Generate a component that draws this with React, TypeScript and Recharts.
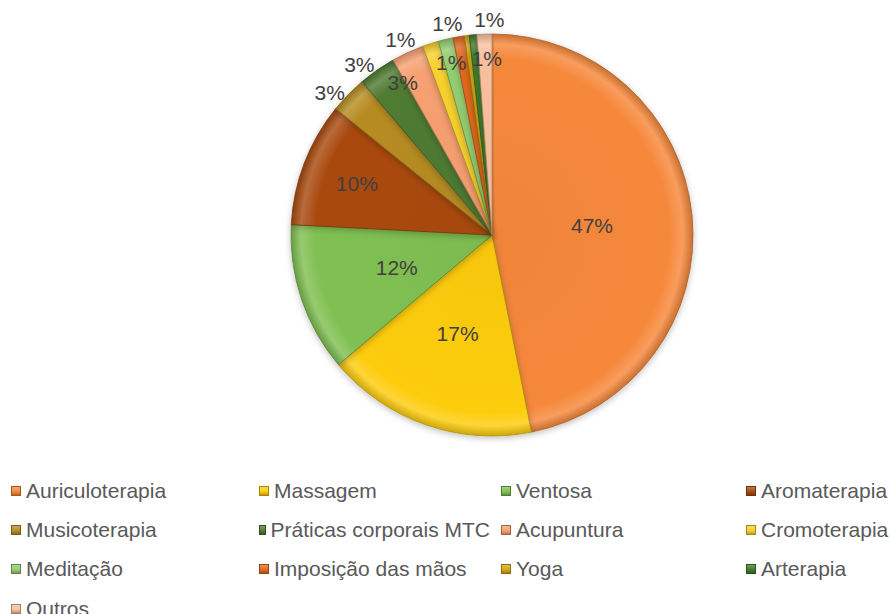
import React from 'react'
import { PieChart, Pie, Cell, Legend } from 'recharts'

const categories = [
  'Auriculoterapia',
  'Massagem',
  'Ventosa',
  'Aromaterapia',
  'Musicoterapia',
  'Práticas corporais MTC',
  'Acupuntura',
  'Cromoterapia',
  'Meditação',
  'Imposição das mãos',
  'Yoga',
  'Arterapia',
  'Outros',
]

// percent of answers
const shares = [46.9, 17, 12, 10, 3, 3, 2.6, 1.3, 1.2, 0.9, 0.4, 0.6, 1.2]

const colors = [
  '#F6883B',
  '#FDCC0C',
  '#80C052',
  '#AA4A10',
  '#B68C22',
  '#4F7B31',
  '#F7A071',
  '#F7D12F',
  '#94CD70',
  '#E2681F',
  '#D6A714',
  '#407B2C',
  '#F9C09E',
]

// how each data label sits: inside ratio of the radius, or outside; small angle nudges (deg, clockwise)
const labelPlacement: { mode: 'in' | 'out' | 'none'; r?: number; turn?: number }[] = [
  { mode: 'in', r: 0.5 },
  { mode: 'in', r: 0.52 },
  { mode: 'in', r: 0.5 },
  { mode: 'in', r: 0.72 },
  { mode: 'out', turn: -3 },
  { mode: 'out', turn: -3 },
  { mode: 'in', r: 0.88, turn: -5.5 },
  { mode: 'out', turn: -7.3 },
  { mode: 'in', r: 0.88 },
  { mode: 'out', turn: -2.4 },
  { mode: 'none' },
  { mode: 'out', turn: 4.7 },
  { mode: 'in', r: 0.88, turn: 0.5 },
]

const data = categories.map((name, i) => ({ name, value: shares[i] }))

const RAD = Math.PI / 180
const FONT = '"Liberation Sans", Arial, sans-serif'

function shade(hex: string, to: string, t: number) {
  const a = parseInt(hex.slice(1), 16)
  const b = parseInt(to.slice(1), 16)
  const ch = (v: number, s: number) => (v >> s) & 255
  const m = (s: number) => Math.round(ch(a, s) + (ch(b, s) - ch(a, s)) * t)
  return `rgb(${m(16)},${m(8)},${m(0)})`
}

const renderLabel = (props: any) => {
  const { cx, cy, midAngle, outerRadius, percent, index } = props
  const p = labelPlacement[index]
  if (!p || p.mode === 'none') return null
  const ang = midAngle - (p.turn ?? 0)
  const r = p.mode === 'out' ? outerRadius + 15 : outerRadius * (p.r ?? 0.5)
  const x = cx + r * Math.cos(-ang * RAD)
  const y = cy + r * Math.sin(-ang * RAD)
  return (
    <text
      x={x}
      y={y}
      textAnchor="middle"
      dominantBaseline="central"
      fill="#404040"
      fontSize={21}
      fontFamily={FONT}
    >
      {`${Math.round(percent * 100)}%`}
    </text>
  )
}

const LegendBox = () => (
  <div
    style={{
      display: 'grid',
      gridTemplateColumns: '248px 242px 245px 155px',
      gridAutoRows: '39.3px',
      fontFamily: FONT,
      fontSize: 21,
      color: '#595959',
    }}
  >
    {categories.map((c, i) => (
      <div key={c} style={{ display: 'flex', alignItems: 'center', whiteSpace: 'nowrap' }}>
        <span
          style={{
            display: 'inline-block',
            width: 10,
            height: 10,
            marginLeft: 11,
            marginRight: 5,
            boxSizing: 'border-box',
            background: `linear-gradient(180deg, ${shade(colors[i], '#ffffff', 0.25)}, ${colors[i]} 60%, ${shade(colors[i], '#000000', 0.25)})`,
            border: `1px solid ${shade(colors[i], '#000000', 0.35)}`,
          }}
        />
        {c}
      </div>
    ))}
  </div>
)

export default function App() {
  return (
    <div style={{ position: 'absolute', left: 0, top: 0, width: 890, height: 614, background: '#fff', overflow: 'hidden' }}>
      <PieChart width={890} height={614} margin={{ top: 0, right: 0, bottom: 0, left: 0 }}>
        <defs>
          {colors.map((c, i) => (
            <radialGradient key={i} id={`bev${i}`} cx={492} cy={235} r={201} gradientUnits="userSpaceOnUse">
              <stop offset="0%" stopColor={shade(c, '#000000', 0.03)} />
              <stop offset="88%" stopColor={c} />
              <stop offset="95%" stopColor={shade(c, '#ffffff', 0.18)} />
              <stop offset="100%" stopColor={shade(c, '#000000', 0.18)} />
            </radialGradient>
          ))}
          <filter id="pieShadow" x="-10%" y="-10%" width="120%" height="120%">
            <feDropShadow dx="0" dy="2" stdDeviation="3" floodColor="#000" floodOpacity="0.25" />
          </filter>
        </defs>
        <Pie
          data={data}
          dataKey="value"
          nameKey="name"
          cx={492}
          cy={235}
          outerRadius={201}
          startAngle={90}
          endAngle={-270}
          label={renderLabel}
          labelLine={false}
          isAnimationActive={false}
          style={{ filter: 'url(#pieShadow)' }}
        >
          {data.map((_, i) => (
            <Cell
              key={i}
              fill={`url(#bev${i})`}
              stroke={shade(colors[i], '#000000', 0.3)}
              strokeWidth={0.8}
            />
          ))}
        </Pie>
        <Legend
          content={() => <LegendBox />}
          wrapperStyle={{ position: 'absolute', left: 0, top: 471, width: 890 }}
        />
      </PieChart>
    </div>
  )
}
